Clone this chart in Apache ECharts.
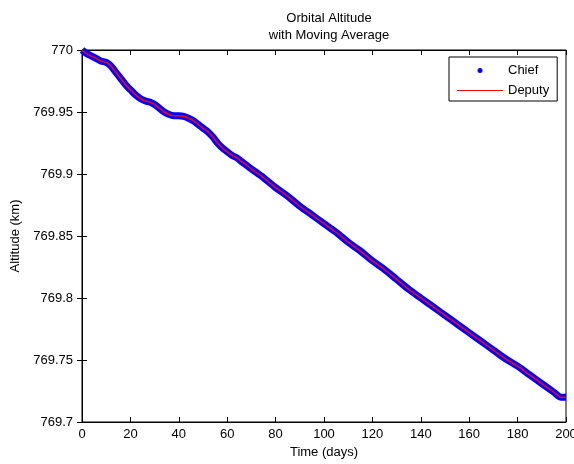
<!DOCTYPE html>
<html>
<head>
<meta charset="utf-8">
<script src="https://cdn.jsdelivr.net/npm/echarts@6/dist/echarts.min.js"></script>
<style>
html,body{margin:0;padding:0;background:#fff;}
#chart{width:574px;height:464px;}
</style>
</head>
<body>
<div id="chart"></div>
<script>
var titleLines = ['Orbital Altitude', 'with Moving Average'];
var seriesNames = ['Chief', 'Deputy'];
var days = [0,2,4,6,8,10,12,14,16,18,20,22,24,26,28,30,32,34,36,38,40,42,44,46,48,50,52,54,56,58,60,62,64,66,68,70,75,80,85,90,95,100,105,110,115,120,125,130,135,140,145,150,155,160,165,170,175,180,185,190,195,198,200];
var chiefAlt = [770.000,769.997,769.995,769.993,769.991,769.990,769.987,769.982,769.977,769.972,769.968,769.964,769.961,769.959,769.958,769.956,769.953,769.950,769.948,769.947,769.947,769.9465,769.945,769.943,769.940,769.937,769.934,769.930,769.925,769.921,769.918,769.915,769.913,769.910,769.907,769.904,769.897,769.889,769.882,769.874,769.867,769.860,769.853,769.845,769.838,769.830,769.823,769.815,769.807,769.800,769.793,769.786,769.779,769.772,769.765,769.758,769.751,769.745,769.738,769.731,769.724,769.720,769.720];
var deputyAlt = [770.000,769.997,769.995,769.993,769.991,769.990,769.987,769.982,769.977,769.972,769.968,769.964,769.961,769.959,769.958,769.956,769.953,769.950,769.948,769.947,769.947,769.9465,769.945,769.943,769.940,769.937,769.934,769.930,769.925,769.921,769.918,769.915,769.913,769.910,769.907,769.904,769.897,769.889,769.882,769.874,769.867,769.860,769.853,769.845,769.838,769.830,769.823,769.815,769.807,769.800,769.793,769.786,769.779,769.772,769.765,769.758,769.751,769.745,769.738,769.731,769.724,769.720,769.720];
var xLabel = 'Time (days)';
var yLabel = 'Altitude (km)';

function pairs(xs, ys){ return xs.map(function(x,i){ return [x, ys[i]]; }); }

var FONT = 'Liberation Sans, Arial, sans-serif';
var chart = echarts.init(document.getElementById('chart'), null, {renderer:'canvas'});
var axisLineStyle = {color:'#000', width:1};
chart.setOption({
  animation: false,
  backgroundColor: '#fff',
  title: {
    text: titleLines.join('\n'),
    left: 324, top: 5, textAlign: 'center',
    textStyle: {fontFamily: FONT, fontSize: 13, fontWeight: 'normal', color: '#000', lineHeight: 17}
  },
  legend: {
    orient: 'vertical',
    left: 449, top: 57,
    padding: [7, 8, 4, 8],
    itemWidth: 46, itemHeight: 5, itemGap: 7,
    backgroundColor: '#fff',
    borderColor: '#000', borderWidth: 1,
    textStyle: {fontFamily: FONT, fontSize: 13, color: '#000'},
    data: [
      {name: seriesNames[0], icon: 'circle', itemStyle: {color: '#0000ff'}},
      {name: seriesNames[1], icon: 'path://M0,0H46V1H0Z', itemStyle: {color: '#ff0000'}}
    ]
  },
  grid: {left: 82, right: 8, top: 50, bottom: 42, show: true, borderColor: '#000', borderWidth: 1, containLabel: false, outerBoundsMode: 'none'},
  xAxis: [{
    type: 'value', min: 0, max: 200, interval: 20, position: 'bottom',
    name: xLabel, nameLocation: 'middle', nameGap: 24,
    nameTextStyle: {fontFamily: FONT, fontSize: 13, color: '#000'},
    axisLine: {show: true, lineStyle: axisLineStyle},
    axisTick: {show: true, inside: true, length: 5, lineStyle: axisLineStyle},
    axisLabel: {fontFamily: FONT, fontSize: 13, color: '#000', margin: 6},
    splitLine: {show: false}
  }, {
    type: 'value', min: 0, max: 200, interval: 20, position: 'top',
    axisLine: {show: true, lineStyle: axisLineStyle},
    axisTick: {show: true, inside: true, length: 5, lineStyle: axisLineStyle},
    axisLabel: {show: false}, splitLine: {show: false}
  }],
  yAxis: [{
    type: 'value', min: 769.7, max: 770, interval: 0.05, position: 'left',
    name: yLabel, nameLocation: 'middle', nameGap: 56, nameRotate: 90,
    nameTextStyle: {fontFamily: FONT, fontSize: 13, color: '#000'},
    axisLine: {show: true, lineStyle: axisLineStyle},
    axisTick: {show: true, inside: true, length: 5, lineStyle: axisLineStyle},
    axisLabel: {fontFamily: FONT, fontSize: 13, color: '#000', margin: 9,
      formatter: function(v){ return String(parseFloat(v.toFixed(2))); }},
    splitLine: {show: false}
  }, {
    type: 'value', min: 769.7, max: 770, interval: 0.05, position: 'right',
    axisLine: {show: true, lineStyle: axisLineStyle},
    axisTick: {show: true, inside: true, length: 5, lineStyle: axisLineStyle},
    axisLabel: {show: false}, splitLine: {show: false}
  }],
  series: [{
    name: seriesNames[0], type: 'line', xAxisIndex: 0, yAxisIndex: 0,
    data: pairs(days, chiefAlt),
    showSymbol: false, symbol: 'circle', smooth: 0.3,
    itemStyle: {color: '#0000ff'},
    lineStyle: {color: '#0000ff', width: 7},
    z: 2
  }, {
    name: seriesNames[1], type: 'line', xAxisIndex: 0, yAxisIndex: 0,
    data: pairs(days, deputyAlt),
    showSymbol: false, symbol: 'none', smooth: 0.3,
    itemStyle: {color: '#ff0000'},
    lineStyle: {color: '#ff0000', width: 1.5},
    z: 3
  }]
});
</script>
</body>
</html>
